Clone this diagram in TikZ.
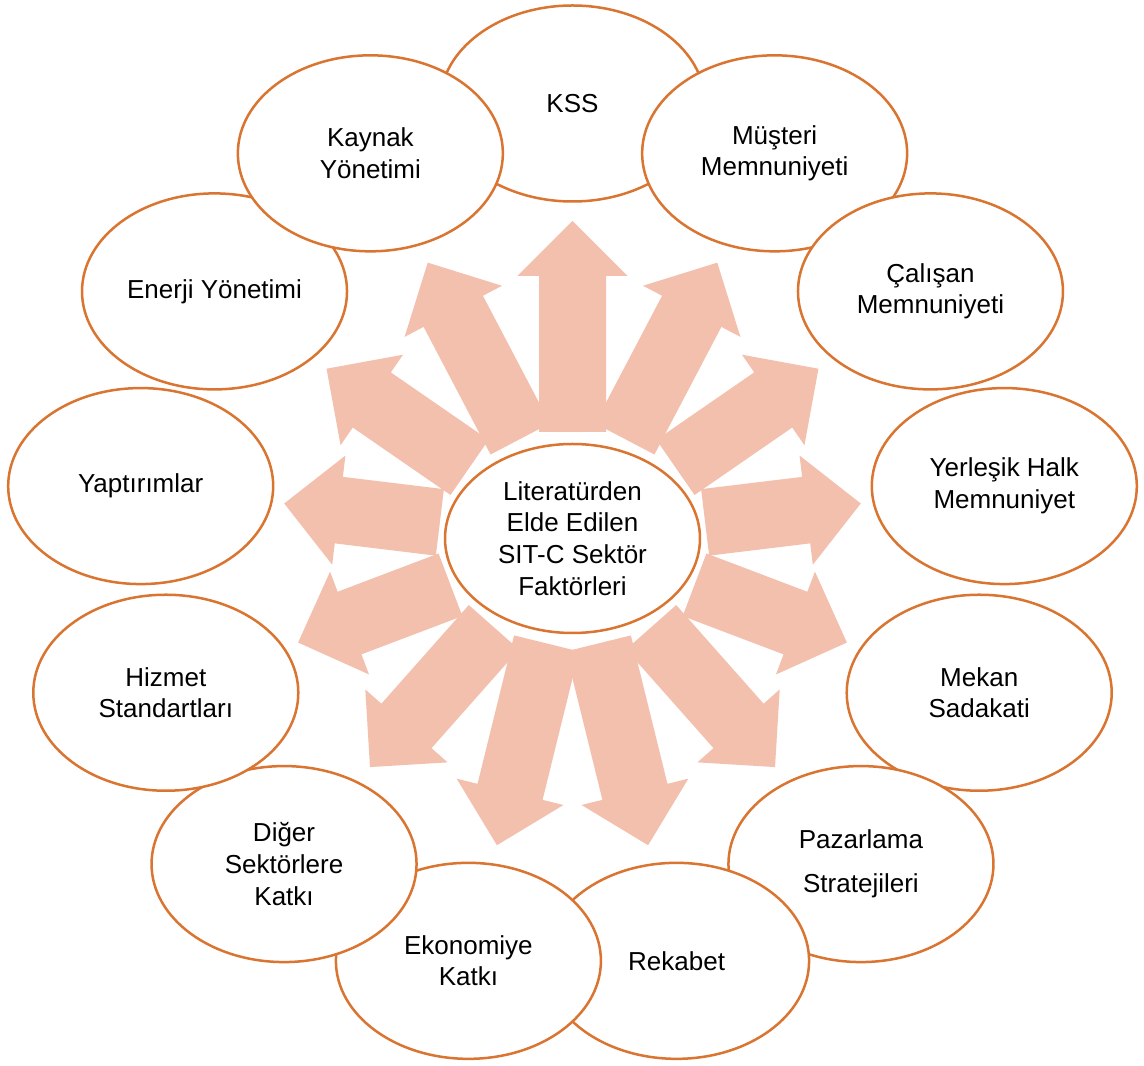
\documentclass[tikz,border=0pt]{standalone}
\usepackage{fontspec}
\setmainfont{Liberation Sans}
\usetikzlibrary{shapes.geometric}
\definecolor{ringc}{RGB}{217,117,48}
\definecolor{arrowc}{RGB}{244,192,174}
\begin{document}
\begin{tikzpicture}[x=1pt,y=1pt,
  bubble/.style={ellipse, draw=ringc, line width=2.5pt, fill=white,
    minimum width=265pt, minimum height=196pt, inner sep=0pt, align=center,
    font=\fontsize{26}{31.7}\selectfont},
  hub/.style={bubble, minimum width=255pt, minimum height=189pt},
  blockarrow/.style={fill=arrowc}]
\useasboundingbox[fill=white] (0,0) rectangle (1144,1066);
\coordinate (C) at (572.5,527.5);
% block arrows radiating from the centre
\foreach \k in {0,...,12}{
  \pgfmathsetmacro\ang{90-\k*360/13}
  \pgfmathsetmacro\len{156+55*sin(\ang)*sin(\ang)}
  \pgfmathsetmacro\tl{212-\len/2}
  \pgfmathsetmacro\tp{212+\len/2}
  \pgfmathsetmacro\hb{\tp-55}
  \fill[blockarrow, shift={(C)}, rotate=\ang]
    (\tl,-33.5) -- (\hb,-33.5) -- (\hb,-55) -- (\tp,0) -- (\hb,55) -- (\hb,33.5) -- (\tl,33.5) -- cycle;
}
\node[hub] (hub) at (C) {Literatürden\\Elde Edilen\\SIT-C Sektör\\Faktörleri};
\node[bubble] (kss) at ([shift={(90:435)}]C) {KSS};
\node[bubble] (musteri) at ([shift={(62.3077:435)}]C) {Müşteri\\Memnuniyeti};
\node[bubble] (calisan) at ([shift={(34.6154:435)}]C) {Çalışan\\Memnuniyeti};
\node[bubble] (halk) at ([shift={(6.9231:435)}]C) {Yerleşik Halk\\Memnuniyet};
\node[bubble] (mekan) at ([shift={(-20.7692:435)}]C) {Mekan\\Sadakati};
\node[bubble] (pazar) at ([shift={(-48.4615:435)}]C) {Pazarlama\\[12pt]Stratejileri};
\node[bubble] (rekabet) at ([shift={(-76.1538:435)}]C) {Rekabet};
\node[bubble] (ekonomi) at ([shift={(-103.8462:435)}]C) {Ekonomiye\\Katkı};
\node[bubble] (diger) at ([shift={(-131.5385:435)}]C) {Diğer\\Sektörlere\\Katkı};
\node[bubble] (hizmet) at ([shift={(-159.2308:435)}]C) {Hizmet\\Standartları};
\node[bubble] (yaptirim) at ([shift={(173.0769:435)}]C) {Yaptırımlar};
\node[bubble] (enerji) at ([shift={(145.3846:435)}]C) {Enerji Yönetimi};
\node[bubble] (kaynak) at ([shift={(117.6923:435)}]C) {Kaynak\\Yönetimi};
\end{tikzpicture}
\end{document}
